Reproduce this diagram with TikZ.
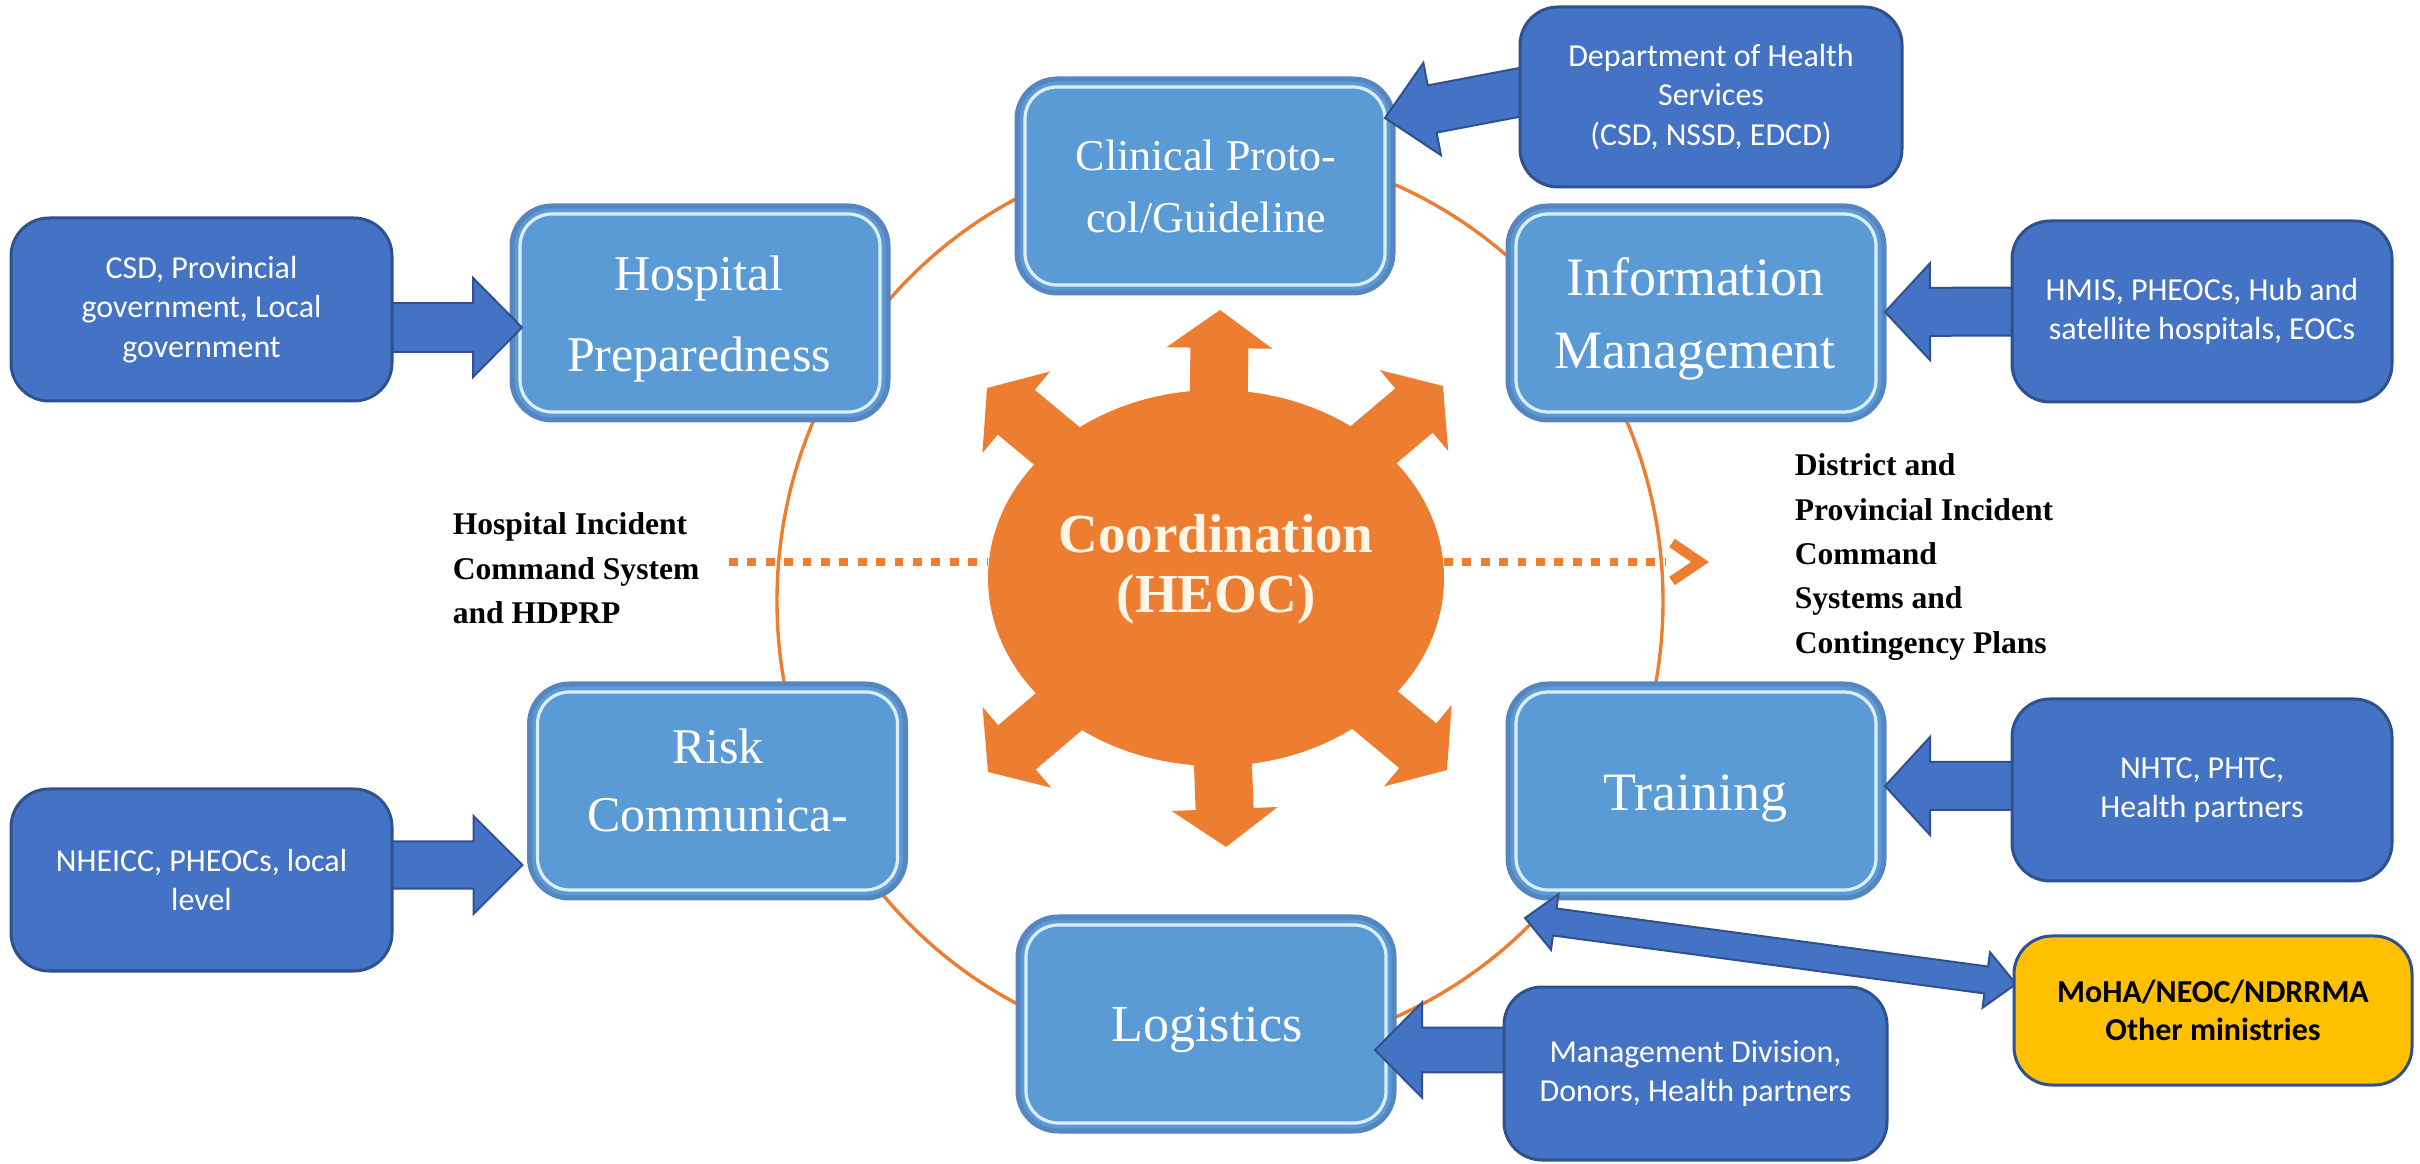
\documentclass[tikz,border=0pt]{standalone}
\usepackage{fontspec}
\newfontfamily\carlito{Carlito}
\newfontfamily\libserif{Liberation Serif}
\usetikzlibrary{calc,shapes.geometric}

\definecolor{lbfill}{HTML}{5B9BD5}
\definecolor{lbedge}{HTML}{5685C0}
\definecolor{lbinner}{HTML}{DCEEFB}
\definecolor{dbfill}{HTML}{4472C4}
\definecolor{dbedge}{HTML}{2F528F}
\definecolor{heoc}{HTML}{ED7D31}
\definecolor{gold}{HTML}{FFC000}
\definecolor{cream}{HTML}{FFF6E8}

\pgfdeclarelayer{bg}
\pgfdeclarelayer{lb}
\pgfdeclarelayer{arr}
\pgfsetlayers{bg,lb,arr,main}

% #1 style, #2 start, #3 tip, #4 shaft half width, #5 head half width, #6 head length
\newcommand\blockarrow[6]{%
  \coordinate (bahead) at ($(#3)!#6!(#2)$);
  \path[#1] ($(#2)!#4!90:(#3)$) -- ($(bahead)!#4!-90:(#2)$) -- ($(bahead)!#5!-90:(#2)$) -- (#3)
    -- ($(bahead)!#5!90:(#2)$) -- ($(bahead)!#4!90:(#2)$) -- ($(#2)!#4!-90:(#3)$) -- cycle;}
% #1 style, #2 tip A, #3 tip B, #4 shaft half, #5 head half, #6 head length
\newcommand\dblarrow[6]{%
  \coordinate (haA) at ($(#2)!#6!(#3)$);
  \coordinate (haB) at ($(#3)!#6!(#2)$);
  \path[#1] (#2) -- ($(haA)!#5!90:(#3)$) -- ($(haA)!#4!90:(#3)$) -- ($(haB)!#4!-90:(#2)$)
    -- ($(haB)!#5!-90:(#2)$) -- (#3) -- ($(haB)!#5!90:(#2)$) -- ($(haB)!#4!90:(#2)$)
    -- ($(haA)!#4!-90:(#3)$) -- ($(haA)!#5!-90:(#3)$) -- cycle;}

\tikzset{
 lbox/.style={rectangle, rounded corners=10pt, fill=lbfill, draw=lbedge, line width=1.25pt,
   minimum width=94pt, minimum height=53.5pt, inner sep=0pt, outer sep=0pt},
 lbline/.style={draw=lbinner, line width=0.8pt, rounded corners=8pt},
 lbtext/.style={text=white, align=center, inner sep=0pt},
 dbox/.style={rectangle, rounded corners=9.5pt, fill=dbfill, draw=dbedge, line width=0.75pt,
   text=white, align=center, inner sep=0pt, outer sep=0pt,
   font=\carlito\fontsize{8}{9.8}\selectfont},
 barrow/.style={fill=dbfill, draw=dbedge, line width=0.5pt, line join=miter},
 oarrow/.style={fill=heoc},
 ring/.style={draw=heoc, line width=0.85pt},
 dotline/.style={draw=heoc, line width=2pt, dash pattern=on 2.2pt off 2.4pt},
 chev/.style={draw=heoc, line width=2.5pt, line join=miter},
 sidetext/.style={align=left, inner sep=0pt, anchor=north west,
   font=\libserif\bfseries\fontsize{7.9}{11.1}\selectfont},
}

\begin{document}
\begin{tikzpicture}[x=0.25pt,y=-0.25pt]
\useasboundingbox (0,0) rectangle (2420,1164);

\begin{pgfonlayer}{bg}
\fill[white] (0,0) rectangle (2420,1164);
\draw[ring] (1220,601) ellipse [x radius=443, y radius=453];
\node[ellipse, fill=heoc, minimum width=114pt, minimum height=94pt, inner sep=0pt, outer sep=0pt] (coord) at (1216,578) {};
\foreach \name/\dx/\dy in {tu/4/-268, td/10/269, ttl/-229/-190, ttr/227/-192, tbl/-228/194, tbr/231/192}
  \coordinate (\name) at ($(coord.center)+(\dx,\dy)$);
\foreach \t in {tu,td,ttl,ttr,tbl,tbr} {\blockarrow{oarrow}{coord.center}{\t}{7.25pt}{13.25pt}{9.5pt}}
\coordinate (dl) at (729,562);
\coordinate (dr) at (1666,562);
\draw[dotline] (dl) -- (coord.west |- dl);
\draw[dotline] (coord.east |- dr) -- (dr);
\draw[chev] ($(dr)+(6,-19)$) -- ($(dr)+(34,0)$) -- ($(dr)+(6,19)$);
\end{pgfonlayer}

\node[font=\libserif\bfseries\fontsize{13.75}{15}\selectfont, text=cream, align=center, inner sep=0pt] (coordtext) at (1216,569) {Coordination\\(HEOC)};

\node[sidetext] (hics) at (452,512) {Hospital Incident\\Command System\\and HDPRP};
\node[sidetext] (dpics) at (1794,453) {District and\\Provincial Incident\\Command\\Systems and\\Contingency Plans};

\begin{pgfonlayer}{lb}
\node[lbox] (hosp) at (700,313) {};
\node[lbox] (clin) at (1205,186) {};
\node[lbox] (info) at (1696,313) {};
\node[lbox] (risk) at (717.5,791) {};
\node[lbox] (train) at (1696,791) {};
\node[lbox] (logi) at (1206,1024) {};
\foreach \n in {hosp,clin,info,risk,train,logi}
  \draw[lbline] ($(\n.south west)+(8,-8)$) rectangle ($(\n.north east)+(-8,8)$);
\end{pgfonlayer}

\node[lbtext, font=\libserif\fontsize{12.5}{20.25}\selectfont] (hospT) at (699,319) {Hospital\\Preparedness};
\node[lbtext, font=\libserif\fontsize{11}{15.5}\selectfont] (clinT) at (1206,186.5) {Clinical Proto-\\col/Guideline};
\node[lbtext, font=\libserif\fontsize{13.5}{18.25}\selectfont] (infoT) at (1695,319) {Information\\Management};
\node[lbtext, font=\libserif\fontsize{12.5}{17}\selectfont] (riskT) at (718,780) {Risk\\Communica-};
\node[lbtext, font=\libserif\fontsize{13.5}{16}\selectfont] (trainT) at (1695,798) {Training};
\node[lbtext, font=\libserif\fontsize{13}{16}\selectfont] (logiT) at (1207,1030) {Logistics};

\node[dbox, minimum width=95.25pt, minimum height=45.75pt] (csd) at (201.5,309.5) {CSD, Provincial\\government, Local\\government};
\node[dbox, minimum width=95.25pt, minimum height=45.5pt] (nheicc) at (201.5,880) {NHEICC, PHEOCs, local\\level};
\node[dbox, minimum width=95.5pt, minimum height=45pt] (dept) at (1711,97) {Department of Health\\Services\\(CSD, NSSD, EDCD)};
\node[dbox, minimum width=95pt, minimum height=45.25pt] (hmis) at (2202,311.5) {HMIS, PHEOCs, Hub and\\satellite hospitals, EOCs};
\node[dbox, minimum width=95pt, minimum height=45.5pt] (nhtc) at (2202,790) {NHTC, PHTC,\\Health partners};
\node[dbox, minimum width=95.75pt, minimum height=43.25pt] (mgmt) at (1695.5,1073.5) {Management Division,\\Donors, Health partners};
\node[dbox, fill=gold, text=black, font=\carlito\bfseries\fontsize{8}{9.5}\selectfont, minimum width=99.5pt, minimum height=37.25pt] (moha) at (2213,1010.5) {MoHA/NEOC/NDRRMA\\Other ministries};

\begin{pgfonlayer}{arr}
\coordinate (a1s) at ($(csd.east)+(-10,18)$);
\coordinate (a1t) at ($(hosp.west)+(10,14.5)$);
\blockarrow{barrow}{a1s}{a1t}{6.1pt}{12.4pt}{12.25pt}
\coordinate (a2s) at ($(nheicc.east)+(-10,-15)$);
\coordinate (a2t) at ($(risk.west)+(-7,74)$);
\blockarrow{barrow}{a2s}{a2t}{5.9pt}{12.25pt}{12.25pt}
\coordinate (a3s) at ($(dept.west)+(12,-7)$);
\coordinate (a3t) at ($(clin.east)+(-8,-68)$);
\blockarrow{barrow}{a3s}{a3t}{6pt}{11.75pt}{12pt}
\coordinate (a4s) at ($(hmis.west)+(10,0)$);
\coordinate (a4t) at ($(info.east)+(1,-1)$);
\blockarrow{barrow}{a4s}{a4t}{6pt}{12.1pt}{11.25pt}
\coordinate (a5s) at ($(nhtc.west)+(10,-4)$);
\coordinate (a5t) at ($(train.east)+(1,-5)$);
\blockarrow{barrow}{a5s}{a5t}{6pt}{12.25pt}{11.25pt}
\coordinate (a6s) at ($(mgmt.west)+(10,-23.5)$);
\coordinate (a6t) at ($(logi.east)+(-19,26)$);
\blockarrow{barrow}{a6s}{a6t}{5.6pt}{11.9pt}{11.75pt}
\coordinate (a7a) at ($(train.south west)+(17,20)$);
\coordinate (a7b) at ($(moha.west)+(2,-26.5)$);
\dblarrow{barrow}{a7a}{a7b}{3.4pt}{7pt}{7.5pt}
\end{pgfonlayer}
\end{tikzpicture}
\end{document}
